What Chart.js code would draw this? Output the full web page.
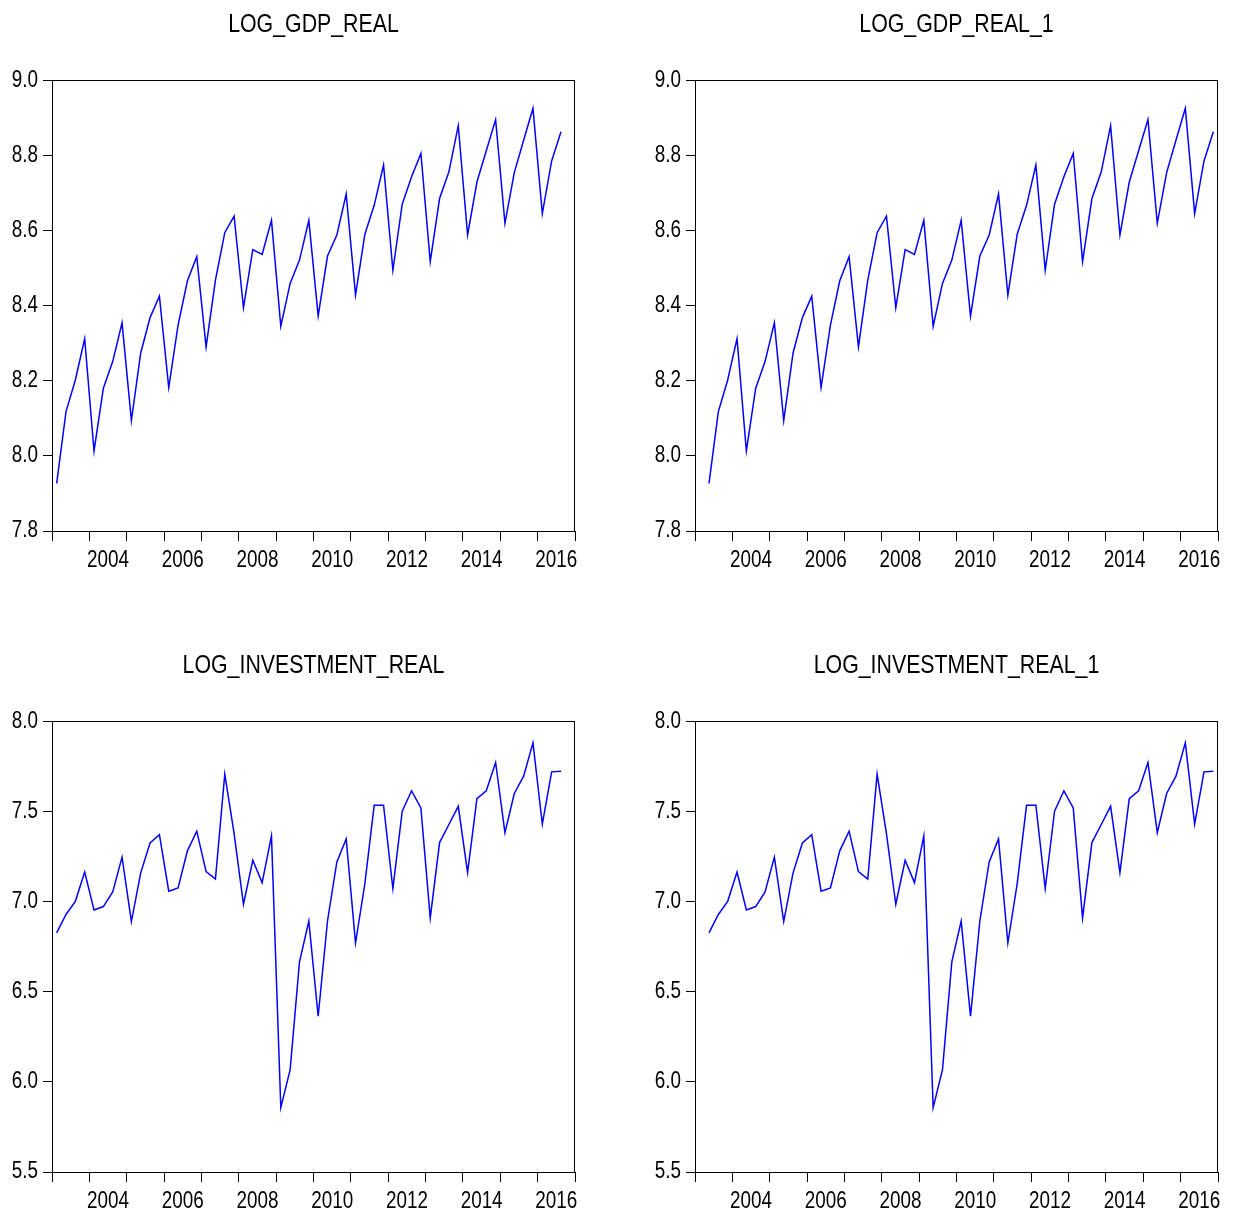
<!DOCTYPE html>
<html>
<head>
<meta charset="utf-8">
<script src="https://cdn.jsdelivr.net/npm/chart.js@4/dist/chart.umd.min.js"></script>
<style>
  body { margin: 0; background: #fff; }
  #wrap { position: relative; width: 1237px; height: 1213px; }
  canvas { position: absolute; }
</style>
</head>
<body>
<div id="wrap">
  <canvas id="c1" width="618" height="600" style="left:0;top:0"></canvas>
  <canvas id="c2" width="618" height="600" style="left:643px;top:0"></canvas>
  <canvas id="c3" width="618" height="600" style="left:0;top:641px"></canvas>
  <canvas id="c4" width="618" height="600" style="left:643px;top:641px"></canvas>
</div>
<script>
// quarterly sample 2003Q1 .. 2016Q3 (the _1 series is the same values one quarter later)
const firstYear = 2003;
const lastYear = 2017;
const yearLabels = [2004, 2006, 2008, 2010, 2012, 2014, 2016];

const logGdpReal = [
  7.927, 8.118, 8.202, 8.312, 8.013, 8.180, 8.251, 8.354,
  8.094, 8.274, 8.368, 8.425, 8.182, 8.348, 8.466, 8.530,
  8.290, 8.468, 8.594, 8.638, 8.394, 8.549, 8.536, 8.627,
  8.345, 8.459, 8.521, 8.627, 8.372, 8.532, 8.588, 8.697,
  8.428, 8.590, 8.667, 8.774, 8.494, 8.670, 8.743, 8.805,
  8.517, 8.685, 8.756, 8.879, 8.588, 8.729, 8.812, 8.895,
  8.619, 8.754, 8.840, 8.925, 8.645, 8.785, 8.863
];

const logInvestmentReal = [
  6.826, 6.928, 7.001, 7.164, 6.953, 6.972, 7.053, 7.246,
  6.889, 7.159, 7.325, 7.371, 7.057, 7.075, 7.281, 7.390,
  7.166, 7.125, 7.706, 7.377, 6.985, 7.229, 7.105, 7.364,
  5.857, 6.068, 6.665, 6.891, 6.364, 6.892, 7.220, 7.347,
  6.770, 7.099, 7.534, 7.534, 7.072, 7.501, 7.614, 7.519,
  6.909, 7.327, 7.427, 7.528, 7.160, 7.571, 7.614, 7.771,
  7.382, 7.599, 7.695, 7.880, 7.429, 7.719, 7.723
];

const gdpTicks = [7.8, 8.0, 8.2, 8.4, 8.6, 8.8, 9.0];
const investmentTicks = [5.5, 6.0, 6.5, 7.0, 7.5, 8.0];

Chart.defaults.font.family = '"Liberation Sans", Arial, sans-serif';
Chart.defaults.color = "#000";

// no narrow font installed, so squeeze the text horizontally (Arial Narrow look)
const narrowText = {
  id: "narrowText",
  beforeDraw(chart) {
    const ctx = chart.ctx;
    if (ctx.isNarrow) return;
    const fill = ctx.fillText.bind(ctx);
    ctx.fillText = function (text, x, y) {
      ctx.save();
      ctx.translate(x, y);
      ctx.scale(0.82, 1);
      fill(text, 0, 0);
      ctx.restore();
    };
    ctx.isNarrow = true;
  },
};

const boxPlugin = {
  id: "box",
  afterDraw(chart) {
    const a = chart.chartArea;
    const ctx = chart.ctx;
    ctx.save();
    ctx.strokeStyle = "#000";
    ctx.lineWidth = 1;
    ctx.strokeRect(Math.round(a.left) + 0.5, Math.round(a.top) + 0.5,
      Math.round(a.right - a.left) - 1, Math.round(a.bottom - a.top));
    ctx.restore();
  },
};

function makeChart(id, title, values, lag, yTicks) {
  const points = values.map((v, i) => ({ x: lag + i + 0.5, y: v }));
  const nQuarters = (lastYear - firstYear) * 4;

  new Chart(document.getElementById(id), {
    type: "line",
    data: {
      datasets: [
        {
          label: title,
          data: points,
          borderColor: "#0000ff",
          borderWidth: 1.5,
          pointRadius: 0,
          tension: 0,
          fill: false,
        },
      ],
    },
    options: {
      responsive: false,
      animation: false,
      layout: { padding: { left: 0, right: 43, top: 0, bottom: 0 } },
      plugins: {
        legend: { display: false },
        tooltip: { enabled: false },
        title: {
          display: true,
          text: title,
          fullSize: false,
          font: { size: 26, weight: "normal" },
          color: "#000",
          padding: { top: 9, bottom: 40 },
        },
      },
      scales: {
        x: {
          type: "linear",
          min: 0,
          max: nQuarters,
          afterBuildTicks(scale) {
            const ticks = [];
            for (let y = firstYear; y <= lastYear; y++) {
              ticks.push({ value: (y - firstYear) * 4 });
            }
            scale.ticks = ticks;
          },
          afterFit(scale) {
            scale.height = 69;
          },
          ticks: {
            autoSkip: false,
            maxRotation: 0,
            font: { size: 23 },
            padding: 6,
            labelOffset: 18.7,
            callback(value) {
              const year = firstYear + value / 4;
              return yearLabels.includes(year) ? String(year) : "";
            },
          },
          grid: {
            drawOnChartArea: false,
            drawTicks: true,
            tickLength: 10,
            color: "#000",
          },
          border: { color: "#000", width: 1 },
        },
        y: {
          min: yTicks[0],
          max: yTicks[yTicks.length - 1],
          afterBuildTicks(scale) {
            scale.ticks = yTicks.map((v) => ({ value: v }));
          },
          afterFit(scale) {
            scale.width = 52;
          },
          ticks: {
            font: { size: 23 },
            padding: 5,
            callback(value) {
              return value.toFixed(1);
            },
          },
          grid: {
            drawOnChartArea: false,
            drawTicks: true,
            tickLength: 9,
            color: "#000",
          },
          border: { color: "#000", width: 1 },
        },
      },
    },
    plugins: [narrowText, boxPlugin],
  });
}

makeChart("c1", "LOG_GDP_REAL", logGdpReal, 0, gdpTicks);
makeChart("c2", "LOG_GDP_REAL_1", logGdpReal, 1, gdpTicks);
makeChart("c3", "LOG_INVESTMENT_REAL", logInvestmentReal, 0, investmentTicks);
makeChart("c4", "LOG_INVESTMENT_REAL_1", logInvestmentReal, 1, investmentTicks);
</script>
</body>
</html>
